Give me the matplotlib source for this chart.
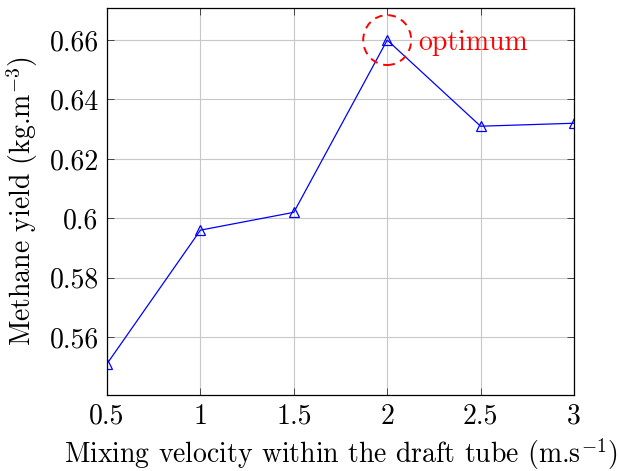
import matplotlib
matplotlib.use("Agg")
import matplotlib.pyplot as plt
from matplotlib.patches import Ellipse
from matplotlib.ticker import FuncFormatter

# Mixing velocity (m/s) and methane yield (kg/m^3)
velocity = [0.5, 1.0, 1.5, 2.0, 2.5, 3.0]
methane_yield = [0.551, 0.596, 0.602, 0.660, 0.631, 0.632]
x_ticks = [0.5, 1, 1.5, 2, 2.5, 3]
y_ticks = [0.56, 0.58, 0.60, 0.62, 0.64, 0.66]

plt.rcParams["font.family"] = "cmr10"
plt.rcParams["mathtext.fontset"] = "cm"
plt.rcParams["axes.formatter.use_mathtext"] = True

fig = plt.figure(figsize=(6.2, 4.71), dpi=100)
ax = fig.add_axes([0.1726, 0.1614, 0.7532, 0.8216])

ax.plot(velocity, methane_yield, color="blue", lw=0.9, marker="^",
        markerfacecolor="none", markeredgecolor="blue", markersize=6.5,
        markeredgewidth=0.9)

# highlight the peak value
peak_i = methane_yield.index(max(methane_yield))
px, py = velocity[peak_i], methane_yield[peak_i]
ax.add_patch(Ellipse((px, py), 0.257, 0.0168, fill=False, edgecolor="red",
                     linestyle=(0, (4, 3)), lw=1.4, zorder=5))
ax.text(px + 0.165, py, "optimum", color="red", fontsize=20,
        va="center_baseline", ha="left")

ax.set_xlim(0.5, 3.0)
ax.set_ylim(0.5405, 0.6708)
ax.set_xticks(x_ticks)
ax.set_yticks(y_ticks)
fmt = FuncFormatter(lambda v, p: "%g" % round(v, 4))
ax.xaxis.set_major_formatter(fmt)
ax.yaxis.set_major_formatter(fmt)
ax.tick_params(direction="in", top=True, right=True, labelsize=20,
               length=5, width=0.7, color="#444444", pad=6)
ax.grid(True, color="#c8c8c8", lw=0.8)
ax.set_axisbelow(True)
for s in ax.spines.values():
    s.set_linewidth(0.9)

ax.set_xlabel("Mixing velocity within the draft tube (m.s$^{-1}$)",
              fontsize=20, labelpad=5)
ax.set_ylabel("Methane yield (kg.m$^{-3}$)", fontsize=20, labelpad=7)

fig.savefig("out.png", dpi=100)
